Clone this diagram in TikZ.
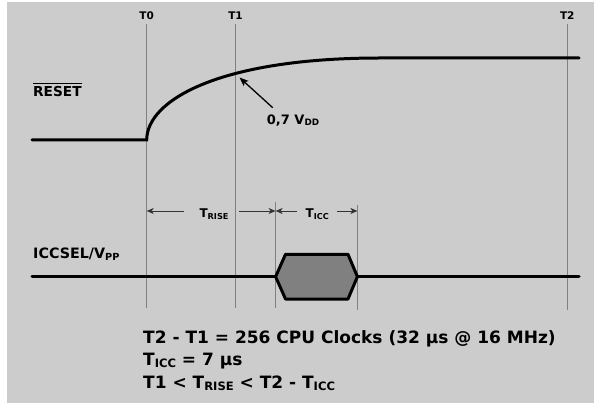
\documentclass[tikz,border=0pt]{standalone}
\usepackage{fontspec}
\usepackage{graphicx}
\setmainfont{DejaVu Sans}
\usetikzlibrary{arrows.meta}
\definecolor{bg}{RGB}{204,204,204}
\definecolor{hexfill}{RGB}{128,128,128}
\definecolor{guide}{RGB}{128,128,128}
\newcommand\sbs[1]{\raisebox{-0.22ex}{\scalebox{0.68}{#1}}}
\newcommand\ovlbar[1]{\setbox0\hbox{#1}\rlap{\rule[\dimexpr\ht0+2.6pt\relax]{\wd0}{0.9pt}}\box0}
\begin{document}
\begin{tikzpicture}[x=1pt,y=-1pt,
  lbl/.style={inner sep=0pt,font=\bfseries},
  sig/.style={line width=3pt,black},
  guideline/.style={line width=0.9pt,guide},
  dim/.style={line width=0.8pt,black!80,-{Stealth[length=7pt,width=6pt,inset=2pt]}}]
\useasboundingbox (0,0) rectangle (594,403);
\fill[white] (0,0) rectangle (594,403);
\fill[bg] (7,2) rectangle (594,403);
% time labels
\node[lbl,font=\bfseries\fontsize{10.5}{12}\selectfont,anchor=base] (t0) at (146.7,20) {T0};
\node[lbl,font=\bfseries\fontsize{10.5}{12}\selectfont,anchor=base] (t1) at (235.5,20) {T1};
\node[lbl,font=\bfseries\fontsize{10.5}{12}\selectfont,anchor=base] (t2) at (567.3,20) {T2};
% guide lines
\coordinate (g0t) at (146.7,24); \coordinate (g0b) at (146.7,308);
\coordinate (g1t) at (235.5,24); \coordinate (g1b) at (235.5,308);
\coordinate (g2t) at (567.3,24); \coordinate (g2b) at (567.3,310);
\coordinate (gat) at (275.6,202); \coordinate (gab) at (275.6,308);
\coordinate (gbt) at (357.4,205); \coordinate (gbb) at (357.4,310);
\draw[guideline] (g0t) -- (g0b);
\draw[guideline] (g1t) -- (g1b);
\draw[guideline] (g2t) -- (g2b);
\draw[guideline] (gat) -- (gab);
\draw[guideline] (gbt) -- (gbb);
% RESET signal
\node[lbl,font=\bfseries\fontsize{13.7}{16}\selectfont,anchor=base west] (reset) at (33,96.7) {\ovlbar{RESET}};
\coordinate (rs) at (32,140);
\coordinate (rk) at (146.7,140);
\coordinate (rf) at (380,58);
\coordinate (re) at (579,58);
\draw[sig,line cap=round] (rs) -- (rk) .. controls (146.7,100) and (220,58) .. (rf) -- (re);
% 0,7 VDD annotation
\node[lbl,font=\bfseries\fontsize{13}{15}\selectfont,anchor=base west] (vdd) at (266.7,124.3) {0,7 V\sbs{DD}};
\coordinate (vtail) at (272.7,107.7);
\coordinate (vtip) at (239.5,77.5);
\draw[line width=1.3pt,-{Stealth[length=9pt,width=7pt,inset=2pt]}] (vtail) -- (vtip);
% dimension arrows
\node[lbl,font=\bfseries\fontsize{12}{14}\selectfont,anchor=base] (trise) at (214,217.7) {T\sbs{RISE}};
\node[lbl,font=\bfseries\fontsize{12}{14}\selectfont,anchor=base] (ticc) at (317.3,217.7) {T\sbs{ICC}};
\coordinate (d0) at (146.7,211); \coordinate (d1l) at (184,211);
\coordinate (d1r) at (239,211); \coordinate (d2) at (275.6,211);
\coordinate (d3l) at (297,211); \coordinate (d3r) at (337,211);
\coordinate (d4) at (357.4,211);
\draw[dim] (d1l) -- (d0);
\draw[dim] (d1r) -- (d2);
\draw[dim] (d3l) -- (d2);
\draw[dim] (d3r) -- (d4);
% ICCSEL signal
\node[lbl,font=\bfseries\fontsize{14.3}{16}\selectfont,anchor=base west] (iccsel) at (33,258.3) {ICCSEL/V\sbs{PP}};
\coordinate (is) at (32,276.7);
\coordinate (hl) at (275.6,276.7);
\coordinate (hr) at (357.4,276.7);
\coordinate (ie) at (579,276.7);
\draw[sig,line cap=round] (is) -- (hl);
\draw[sig,line cap=round] (hr) -- (ie);
\draw[sig,fill=hexfill,line join=round] (hl) -- (285.5,254.3) -- (348,254.3) -- (hr) -- (348,299) -- (285.5,299) -- cycle;
% equations
\node[lbl,font=\bfseries\fontsize{17}{20}\selectfont,anchor=base west] (eq1) at (143,343.3) {T2 - T1 = 256 CPU Clocks (32 µs @ 16 MHz)};
\node[lbl,font=\bfseries\fontsize{17}{20}\selectfont,anchor=base west] (eq2) at (143,365.8) {T\sbs{ICC} = 7 µs};
\node[lbl,font=\bfseries\fontsize{17}{20}\selectfont,anchor=base west] (eq3) at (143,388.3) {T1 < T\sbs{RISE} < T2 - T\sbs{ICC}};
\end{tikzpicture}
\end{document}
